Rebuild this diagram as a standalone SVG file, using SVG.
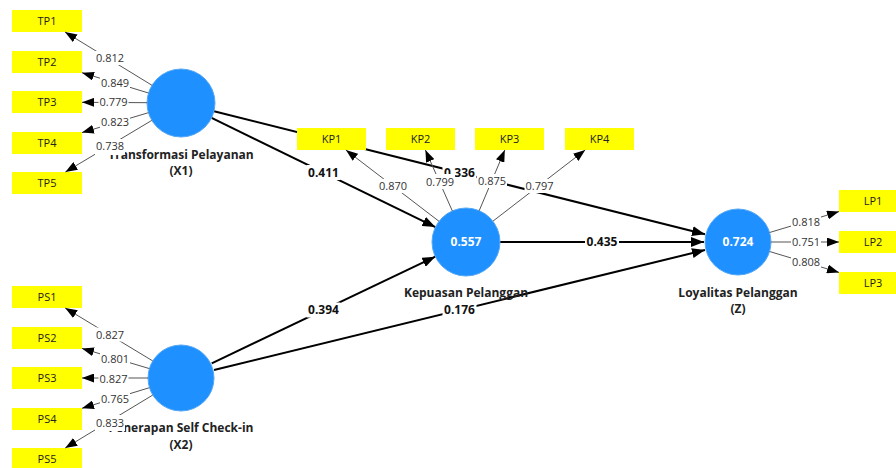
<svg xmlns="http://www.w3.org/2000/svg" width="896" height="468" viewBox="0 0 896 468">
<defs>
<style>
.ind rect{fill:#ffff00}
.ind text{font:11px "Open Sans","Noto Sans",sans-serif;fill:#222;text-anchor:middle}
.lv circle{fill:#1e90ff;stroke:#55a8f5;stroke-width:1}
.lv .val{font:bold 12px "Open Sans","Noto Sans",sans-serif;fill:#fff;text-anchor:middle}
.lv .name{font:bold 12px "Open Sans","Noto Sans",sans-serif;fill:#222;text-anchor:middle}
.ld line{stroke:#555;stroke-width:1;marker-end:url(#at)}
.ld rect{fill:#fff}
.ld text{font:11px "Open Sans","Noto Sans",sans-serif;fill:#333;text-anchor:middle}
.pt line{stroke:#000;stroke-width:2;marker-end:url(#ab)}
.pt rect{fill:#fff}
.pt text{font:bold 12px "Open Sans","Noto Sans",sans-serif;fill:#111;text-anchor:middle}
</style>
<marker id="at" viewBox="0 0 12 9" refX="12" refY="4.5" markerWidth="12" markerHeight="9" orient="auto" markerUnits="userSpaceOnUse"><path d="M0,0L12,4.5L0,9z" fill="#000"/></marker>
<marker id="ab" viewBox="0 0 13 10" refX="13" refY="5" markerWidth="13" markerHeight="10" orient="auto" markerUnits="userSpaceOnUse"><path d="M0,0L13,5L0,10z" fill="#000"/></marker>
</defs>
<rect width="896" height="468" fill="#fff"/>

<g id="connectors-paths" class="pt">
<line x1="211.6" y1="117.9" x2="435.4" y2="227.1"/>
<line x1="214" y1="111.2" x2="705" y2="234.2"/>
<line x1="500" y1="242" x2="704" y2="242"/>
<line x1="211.7" y1="363.3" x2="435.3" y2="256.7"/>
<line x1="214" y1="370" x2="705" y2="250"/>
<rect x="306.5" y="165" width="34" height="15"/><text x="323.5" y="176.8">0.411</text>
<rect x="442.5" y="165" width="34" height="15"/><text x="459.5" y="176.8">0.336</text>
<rect x="585" y="234.5" width="34" height="15"/><text x="602" y="246.3">0.435</text>
<rect x="306.5" y="302.5" width="34" height="15"/><text x="323.5" y="314.3">0.394</text>
<rect x="442.5" y="302.5" width="34" height="15"/><text x="459.5" y="314.3">0.176</text>
</g>

<g id="X1" class="lv"><circle cx="181" cy="103" r="34"/><text class="name" x="181" y="159">Transformasi Pelayanan</text><text class="name" x="181" y="175">(X1)</text></g>
<g id="X2" class="lv"><circle cx="181" cy="378" r="33"/><text class="name" x="181" y="432">Penerapan Self Check-in</text><text class="name" x="181" y="449">(X2)</text></g>
<g id="KP" class="lv"><circle cx="466" cy="242" r="34"/><text class="val" x="466" y="246.3">0.557</text><text class="name" x="466" y="297">Kepuasan Pelanggan</text></g>
<g id="Z" class="lv"><circle cx="738" cy="242" r="33"/><text class="val" x="738" y="246.3">0.724</text><text class="name" x="738" y="297">Loyalitas Pelanggan</text><text class="name" x="738" y="313">(Z)</text></g>

<g id="TP1" class="ind"><rect x="12" y="10" width="70" height="22"/><text x="47" y="25">TP1</text></g>
<g id="TP2" class="ind"><rect x="12" y="51" width="70" height="22"/><text x="47" y="66">TP2</text></g>
<g id="TP3" class="ind"><rect x="12" y="91" width="70" height="22"/><text x="47" y="106">TP3</text></g>
<g id="TP4" class="ind"><rect x="12" y="132" width="70" height="22"/><text x="47" y="147">TP4</text></g>
<g id="TP5" class="ind"><rect x="12" y="172" width="70" height="22"/><text x="47" y="187">TP5</text></g>
<g id="PS1" class="ind"><rect x="12" y="286" width="70" height="22"/><text x="47" y="301">PS1</text></g>
<g id="PS2" class="ind"><rect x="12" y="327" width="70" height="22"/><text x="47" y="342">PS2</text></g>
<g id="PS3" class="ind"><rect x="12" y="367" width="70" height="22"/><text x="47" y="382">PS3</text></g>
<g id="PS4" class="ind"><rect x="12" y="408" width="70" height="22"/><text x="47" y="423">PS4</text></g>
<g id="PS5" class="ind"><rect x="12" y="448" width="70" height="22"/><text x="47" y="463">PS5</text></g>
<g id="KP1" class="ind"><rect x="297" y="128" width="69" height="22"/><text x="331.5" y="143">KP1</text></g>
<g id="KP2" class="ind"><rect x="386" y="128" width="69" height="22"/><text x="420.5" y="143">KP2</text></g>
<g id="KP3" class="ind"><rect x="475" y="128" width="69" height="22"/><text x="509.5" y="143">KP3</text></g>
<g id="KP4" class="ind"><rect x="565" y="128" width="69" height="22"/><text x="599.5" y="143">KP4</text></g>
<g id="LP1" class="ind"><rect x="839" y="190" width="70" height="22"/><text x="873" y="205">LP1</text></g>
<g id="LP2" class="ind"><rect x="839" y="231" width="70" height="22"/><text x="873" y="246">LP2</text></g>
<g id="LP3" class="ind"><rect x="839" y="272" width="70" height="22"/><text x="873" y="287">LP3</text></g>

<g id="connectors-loadings" class="ld">
<line x1="152" y1="85.3" x2="65" y2="32"/>
<line x1="148.5" y1="93" x2="82" y2="72.7"/>
<line x1="147" y1="102.7" x2="82" y2="102.3"/>
<line x1="148.4" y1="112.7" x2="82" y2="132.6"/>
<line x1="151.8" y1="120.4" x2="65.4" y2="172"/>
<line x1="152.7" y1="360.9" x2="65.2" y2="308"/>
<line x1="149.4" y1="368.6" x2="82" y2="348.4"/>
<line x1="148" y1="378" x2="82" y2="378"/>
<line x1="149.4" y1="387.7" x2="82" y2="408.3"/>
<line x1="152.7" y1="395.1" x2="65.2" y2="448"/>
<line x1="439" y1="221.3" x2="345.9" y2="150"/>
<line x1="452.3" y1="210.9" x2="425.4" y2="150"/>
<line x1="479.2" y1="210.7" x2="504.8" y2="150"/>
<line x1="492.9" y1="221.2" x2="585.2" y2="150"/>
<line x1="769.6" y1="232.5" x2="839" y2="211.6"/>
<line x1="771" y1="242" x2="839" y2="242"/>
<line x1="769.6" y1="251.5" x2="839" y2="272.4"/>
<rect x="95" y="51" width="30" height="14"/><text x="110" y="62">0.812</text>
<rect x="100" y="76" width="30" height="14"/><text x="115" y="87">0.849</text>
<rect x="98.5" y="95" width="30" height="14"/><text x="113.5" y="106">0.779</text>
<rect x="100" y="115" width="30" height="14"/><text x="115" y="126">0.823</text>
<rect x="95" y="139" width="30" height="16"/><text x="110" y="150">0.738</text>
<rect x="95" y="327.5" width="30" height="14"/><text x="110" y="338.5">0.827</text>
<rect x="100" y="352" width="30" height="14"/><text x="115" y="363">0.801</text>
<rect x="98.5" y="371.5" width="30" height="14"/><text x="113.5" y="382.5">0.827</text>
<rect x="100" y="391.5" width="30" height="14"/><text x="115" y="402.5">0.765</text>
<rect x="95" y="415" width="30" height="16"/><text x="110" y="427">0.833</text>
<rect x="378" y="179" width="30" height="14"/><text x="393" y="190">0.870</text>
<rect x="425" y="174" width="30" height="15"/><text x="440" y="185.5">0.799</text>
<rect x="477" y="174" width="30" height="14"/><text x="492" y="185">0.875</text>
<rect x="524.5" y="179" width="30" height="14"/><text x="539.5" y="190">0.797</text>
<rect x="791" y="215" width="30" height="14"/><text x="806" y="226">0.818</text>
<rect x="791" y="235" width="30" height="14"/><text x="806" y="246">0.751</text>
<rect x="791" y="255" width="30" height="14"/><text x="806" y="266">0.808</text>
</g>
</svg>
